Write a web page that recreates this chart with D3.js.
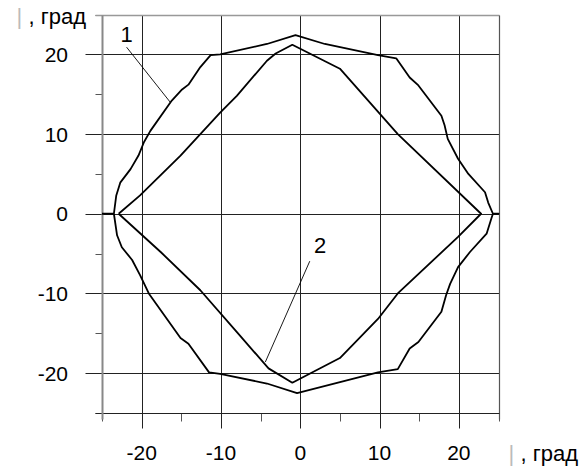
<!DOCTYPE html>
<html><head><meta charset="utf-8">
<script src="https://cdn.jsdelivr.net/npm/d3@7"></script>
<style>body{margin:0;background:#fff}svg{display:block}text{font-family:"Liberation Sans",Arial,sans-serif}</style>
</head><body>
<svg id="c" width="579" height="475"></svg>
<script>
// ---- data ----
const xTicks = [-20, -10, 0, 10, 20];
const yTicks = [20, 10, 0, -10, -20];
const minorTicks = [-25, -15, -5, 5, 15, 25];
const axisTitle = "| , град";
// curve 1 (outer)
const outerX = [-25,-23.5,-23.2,-22.7,-21.4,-20.4,-19.7,-18.9,-16.2,-14.9,-14.1,-12.6,-11.3,-10.1,-4.2,-0.6,3.1,9.8,12.1,13.8,14.9,17.8,18.2,18.6,19.9,21.2,23.3,23.7,24.3,25,24.3,24.1,23.5,21.4,19.9,18.9,18.4,17.8,14.9,13.8,12.3,9.8,-0.4,-4.2,-10.1,-11.5,-14.1,-15.1,-19.1,-20.2,-21.2,-22.5,-23.1,-23.5,-25];
const outerY = [0,0,2.3,3.9,5.6,7.3,9.0,10.4,14.2,15.6,16.2,18.4,19.9,20.0,21.3,22.4,21.3,19.9,19.5,17.1,16.1,12.3,11.1,9.4,6.9,5.0,2.7,1.4,0,0,0,-0.6,-2.5,-4.8,-6.7,-8.8,-10.2,-12.3,-16.1,-16.9,-19.5,-19.9,-22.5,-21.3,-20.1,-19.9,-16.3,-15.6,-10.0,-7.7,-5.8,-4.2,-2.7,0,0];
// curve 2 (inner)
const innerX = [-22.9,-20.2,-15.1,-10.1,-8.0,-4.2,-3.1,-1.0,5.0,12.3,22.8,19.9,12.3,9.8,5.0,-1.0,-4.0,-7.6,-12.6,-17.6,-22.9];
const innerY = [0,2.3,7.3,12.7,14.8,19.2,20.1,21.2,18.2,10.0,0,-2.9,-10.0,-13.2,-18.1,-21.2,-19.4,-15.3,-9.6,-4.8,0];
// labels with leaders
const curveLabels = ["1", "2"];
const labelPos = [[-21.9, 21.6], [2.5, -4.9]];
const leaderFrom = [[-21.9, 20.9], [1.2, -5.95]];
const leaderTo = [[-16.4, 14.0], [-4.4, -18.6]];

// ---- drawing ----
const svg = d3.select("#c");
const x = d3.scaleLinear().domain([-25, 25]).range([102, 498.5]);
const y = d3.scaleLinear().domain([-25, 25]).range([413, 14.5]);
const X = v => Math.round(x(v)) + 0.5, Y = v => Math.round(y(v)) + 0.5;

const g = svg.append("g");
xTicks.forEach(t => g.append("line").attr("x1", X(t)).attr("x2", X(t)).attr("y1", Y(25)).attr("y2", Y(-25) + 15)
  .attr("stroke", "#222").attr("stroke-width", 1));
yTicks.forEach(t => g.append("line").attr("y1", Y(t)).attr("y2", Y(t)).attr("x1", X(-25) - 17).attr("x2", X(25))
  .attr("stroke", "#222").attr("stroke-width", 1));
minorTicks.forEach(t => {
  g.append("line").attr("x1", X(t)).attr("x2", X(t)).attr("y1", Y(-25)).attr("y2", Y(-25) + 8).attr("stroke", "#555");
  g.append("line").attr("y1", Y(t)).attr("y2", Y(t)).attr("x1", X(-25) - 7).attr("x2", X(-25)).attr("stroke", "#555");
});
g.append("line").attr("x1", X(-25) - 7).attr("x2", X(25)).attr("y1", Y(25)).attr("y2", Y(25)).attr("stroke", "#999").attr("stroke-width", 1.5);
g.append("line").attr("x1", X(25)).attr("x2", X(25)).attr("y1", Y(25)).attr("y2", Y(-25) + 6).attr("stroke", "#555").attr("stroke-width", 1.2);
g.append("line").attr("x1", X(-25) - 7).attr("x2", X(25)).attr("y1", Y(-25)).attr("y2", Y(-25)).attr("stroke", "#222");
g.append("line").attr("x1", X(-25)).attr("x2", X(-25)).attr("y1", Y(25)).attr("y2", Y(-25) + 6).attr("stroke", "#888").attr("stroke-width", 2);

const line = d3.line().x(d => x(d[0])).y(d => y(d[1]));
const outer = outerX.map((v, i) => [v, outerY[i]]);
const inner = innerX.map((v, i) => [v, innerY[i]]);
[outer, inner].forEach(d => svg.append("path").attr("d", line(d)).attr("fill", "none")
  .attr("stroke", "#000").attr("stroke-width", 1.8).attr("stroke-linejoin", "round"));

curveLabels.forEach((l, i) => {
  svg.append("line").attr("x1", x(leaderFrom[i][0])).attr("y1", y(leaderFrom[i][1]))
    .attr("x2", x(leaderTo[i][0])).attr("y2", y(leaderTo[i][1])).attr("stroke", "#000").attr("stroke-width", 0.9);
  svg.append("text").attr("x", x(labelPos[i][0])).attr("y", y(labelPos[i][1]))
    .attr("text-anchor", "middle").attr("font-size", 22).text(l);
});

xTicks.forEach(t => svg.append("text").attr("x", x(t)).attr("y", 460).attr("text-anchor", "middle")
  .attr("font-size", 21).text(t));
yTicks.forEach(t => svg.append("text").attr("x", 68).attr("y", y(t) + 7.5).attr("text-anchor", "end")
  .attr("font-size", 21).text(t));

function title(xp, yp) {
  const t = svg.append("text").attr("x", xp).attr("y", yp).attr("text-anchor", "end").attr("font-size", 22);
  const parts = axisTitle.split(" ");
  t.append("tspan").attr("fill", "#bbb").text(parts[0]);
  t.append("tspan").text("  " + parts.slice(1).join(" "));
}
title(86, 24);
title(578, 461);
</script>
</body></html>
